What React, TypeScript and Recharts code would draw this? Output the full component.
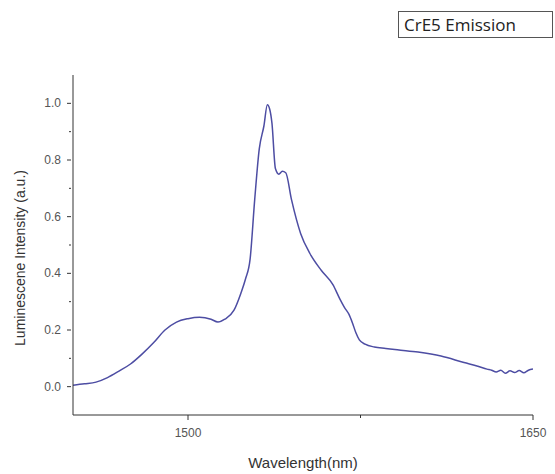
import React from "react";
import { LineChart, Line, XAxis, YAxis, Label } from "recharts";

const wavelength = [
  1450, 1455, 1460, 1465, 1470, 1475, 1480, 1485, 1490, 1495, 1500, 1505, 1510,
  1513, 1516, 1520, 1523, 1525, 1527, 1529, 1531, 1533, 1534.5, 1535.5, 1536.5,
  1538, 1539.5, 1541, 1542.5, 1545, 1549, 1553, 1558, 1563, 1566, 1568, 1570,
  1571.5, 1573, 1574.5, 1577, 1581, 1586, 1591, 1600, 1610, 1620, 1626, 1630,
  1632, 1634, 1636, 1638, 1640, 1642, 1644, 1646, 1648, 1650,
];
const intensity = [
  0.005, 0.01, 0.016, 0.032, 0.055, 0.08, 0.115, 0.155, 0.2, 0.228, 0.24, 0.245,
  0.238, 0.228, 0.238, 0.27, 0.33, 0.38, 0.45, 0.66, 0.84, 0.92, 0.995, 0.98,
  0.93, 0.77, 0.75, 0.76, 0.755, 0.66, 0.54, 0.47, 0.41, 0.36, 0.31, 0.28, 0.255,
  0.225, 0.19, 0.165, 0.15, 0.14, 0.135, 0.13, 0.122, 0.108, 0.085, 0.072, 0.062,
  0.058, 0.052, 0.058, 0.047, 0.056, 0.05, 0.057, 0.049, 0.058, 0.062,
];
const xTicks = [1500, 1575, 1650];
const xLabelled = [1500, 1650];
const yTicks = [0, 0.1, 0.2, 0.3, 0.4, 0.5, 0.6, 0.7, 0.8, 0.9, 1.0];

const data = wavelength.map((w, i) => ({ w, v: intensity[i] }));

const FONT = "Arial, 'Liberation Sans', sans-serif";

function YTick(props: any) {
  const { x, y, payload } = props;
  const v = payload.value;
  const major = Math.round(v * 10) % 2 === 0;
  return (
    <g>
      <line x1={x + 6} x2={x + 6 - (major ? 4 : 2)} y1={y} y2={y} stroke="#333" />
      {major && (
        <text x={x - 4} y={y} dy={4} textAnchor="end" fontSize={12} fill="#555" fontFamily={FONT}>
          {v.toFixed(1)}
        </text>
      )}
    </g>
  );
}

function XTick(props: any) {
  const { x, y, payload } = props;
  const v = payload.value;
  const major = xLabelled.includes(v);
  return (
    <g>
      <line x1={x} x2={x} y1={y - 8} y2={y - 8 + (major ? 5 : 3)} stroke="#333" />
      {major && (
        <text x={x} y={y + 14} textAnchor="middle" fontSize={12} fill="#555" fontFamily={FONT}>
          {v}
        </text>
      )}
    </g>
  );
}

function YLabel(props: any) {
  const { viewBox } = props;
  const cy = viewBox.y + viewBox.height / 2 + 13;
  return (
    <text
      transform={`translate(25, ${cy}) rotate(-90)`}
      textAnchor="middle"
      fontSize={14}
      fill="#333"
      fontFamily={FONT}
    >
      Luminescene Intensity (a.u.)
    </text>
  );
}

export default function App() {
  return (
    <div style={{ position: "absolute", left: 0, top: 0, width: 555, height: 474, background: "#fff" }}>
      <LineChart
        width={555}
        height={474}
        data={data}
        margin={{ top: 75, right: 22, bottom: 29, left: 13 }}
      >
        <XAxis
          dataKey="w"
          type="number"
          domain={[1450, 1650]}
          ticks={xTicks}
          tickLine={false}
          tick={<XTick />}
          height={30}
          stroke="#333"
          allowDataOverflow
        >
          <Label
            value="Wavelength(nm)"
            position="bottom"
            offset={12}
            style={{ fontSize: 15, fill: "#333", fontFamily: FONT }}
          />
        </XAxis>
        <YAxis
          type="number"
          domain={[-0.1, 1.1]}
          ticks={yTicks}
          tickLine={false}
          tick={<YTick />}
          width={60}
          stroke="#333"
          allowDataOverflow
        >
          <Label content={<YLabel />} />
        </YAxis>
        <Line
          type="monotone"
          dataKey="v"
          stroke="#4d4da3"
          strokeWidth={1.5}
          dot={false}
          isAnimationActive={false}
        />
      </LineChart>
      <div
        style={{
          position: "absolute",
          left: 398,
          top: 11,
          width: 155,
          height: 27,
          border: "1px solid #555",
          boxSizing: "border-box",
          fontFamily: "'Open Sans', 'Noto Sans', sans-serif",
          fontSize: 17,
          lineHeight: "25px",
          color: "#222",
          paddingLeft: 5,
        }}
      >
        CrE5 Emission
      </div>
    </div>
  );
}
